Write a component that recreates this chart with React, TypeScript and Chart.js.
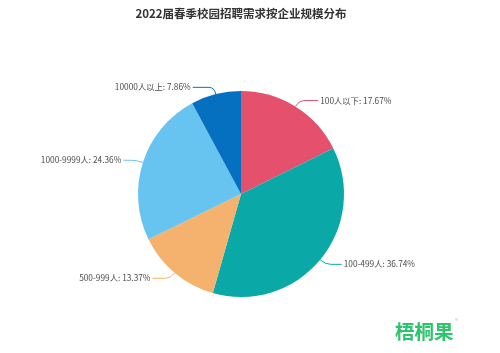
import React, { useEffect, useRef } from "react";
import { Chart, registerables } from "chart.js";

Chart.register(...registerables);

const TITLE = "2022届春季校园招聘需求按企业规模分布";
const categories = ["100人以下", "100-499人", "500-999人", "1000-9999人", "10000人以上"];
const values = [17.67, 36.74, 13.37, 24.36, 7.86];
const colors = ["#e5506d", "#0aa9a8", "#f4b26e", "#67c3ef", "#0670c0"];
const WATERMARK = "梧桐果";

const FONT = '"Noto Sans CJK SC", "Noto Sans", sans-serif';

const labelPlugin = {
  id: "pieLabels",
  afterDatasetsDraw(chart: any) {
    const ctx = chart.ctx;
    const meta = chart.getDatasetMeta(0);
    ctx.save();
    meta.data.forEach((arc: any, i: number) => {
      const { x, y, startAngle, endAngle, outerRadius } = arc.getProps(
        ["x", "y", "startAngle", "endAngle", "outerRadius"],
        true
      );
      const mid = (startAngle + endAngle) / 2;
      const cos = Math.cos(mid);
      const sin = Math.sin(mid);
      const p0x = x + cos * outerRadius;
      const p0y = y + sin * outerRadius;
      const p1x = x + cos * (outerRadius + 7);
      const p1y = y + sin * (outerRadius + 7);
      const right = cos >= 0;
      const len2 = 12 + 10 * Math.abs(sin) * Math.abs(sin);
      const p2x = p1x + (right ? len2 : -len2);
      const p2y = p1y;
      ctx.strokeStyle = colors[i];
      ctx.lineWidth = 1;
      ctx.beginPath();
      ctx.moveTo(p0x, p0y);
      ctx.quadraticCurveTo(p1x, p1y, p1x + (right ? 5 : -5), p1y);
      ctx.lineTo(p2x, p2y);
      ctx.stroke();
      ctx.fillStyle = "#4a4a4a";
      ctx.font = `8.3px ${FONT}`;
      ctx.textBaseline = "middle";
      ctx.textAlign = right ? "left" : "right";
      ctx.fillText(
        `${categories[i]}: ${values[i].toFixed(2)}%`,
        p2x + (right ? 2 : -2),
        p2y
      );
    });
    // title
    ctx.fillStyle = "#333";
    ctx.font = `bold 11.5px ${FONT}`;
    ctx.textAlign = "center";
    ctx.textBaseline = "middle";
    ctx.fillText(TITLE, 241, 14);
    // watermark
    ctx.fillStyle = "#2bc56c";
    ctx.font = `bold 19.5px ${FONT}`;
    ctx.textAlign = "left";
    ctx.fillText(WATERMARK, 395, 332);
    ctx.fillStyle = "#9bd8b0";
    ctx.font = `6px ${FONT}`;
    ctx.fillText("®", 455, 321);
    ctx.restore();
  },
};

export default function App() {
  const ref = useRef<HTMLCanvasElement | null>(null);
  useEffect(() => {
    document.body.style.margin = "0";
    const canvas = ref.current!;
    const chart = new Chart(canvas, {
      type: "pie",
      data: {
        labels: categories,
        datasets: [
          {
            data: values,
            backgroundColor: colors,
            borderWidth: 0,
          },
        ],
      },
      options: {
        responsive: false,
        animation: false,
        layout: { padding: { top: 91, bottom: 56, left: 138, right: 156 } },
        plugins: {
          legend: { display: false },
          title: { display: false },
          tooltip: { enabled: false },
        },
      },
      plugins: [labelPlugin],
    });
    return () => chart.destroy();
  }, []);
  return (
    <div style={{ width: 500, height: 353, background: "#fff" }}>
      <canvas ref={ref} width={500} height={353} style={{ display: "block" }} />
    </div>
  );
}
